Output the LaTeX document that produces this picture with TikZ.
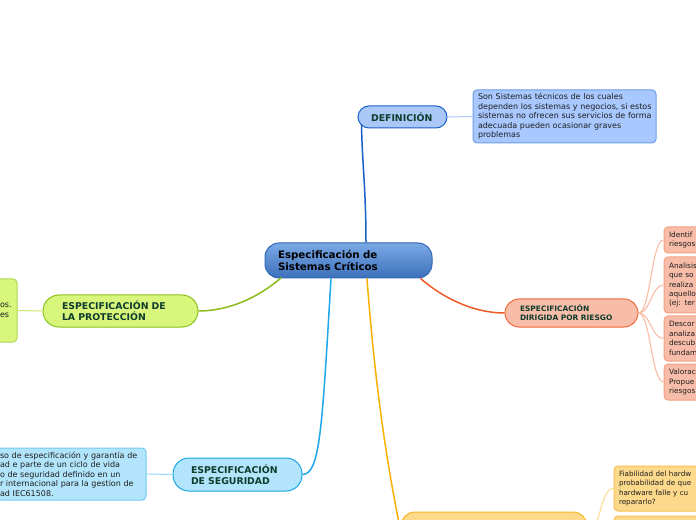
\documentclass[tikz,border=0pt]{standalone}
\usepackage{fontspec}
\setmainfont{DejaVu Sans}
\usetikzlibrary{calc}
\newdimen\pxu \pxu=0.75pt
\newcommand\ml[1]{\mbox{#1}}
\definecolor{pilltxt}{HTML}{0E3B2B}
\definecolor{boxtxt}{HTML}{1E1E1E}
\definecolor{cTop}{HTML}{7AA9E6}
\definecolor{cBot}{HTML}{3C70BA}
\definecolor{cBrd}{HTML}{2F67B5}
\definecolor{dFill}{HTML}{A9C8F8}
\definecolor{dBrd}{HTML}{1A60C8}
\definecolor{dBox}{HTML}{A8C8FF}
\definecolor{dBoxBrd}{HTML}{6D9DE6}
\definecolor{gFill}{HTML}{D8F57C}
\definecolor{gBrd}{HTML}{8CC21E}
\definecolor{gBoxBrd}{HTML}{B0D850}
\definecolor{gLine}{HTML}{8CBC1C}
\definecolor{sFill}{HTML}{F8BDA9}
\definecolor{sBrd}{HTML}{F26A3D}
\definecolor{sBoxBrd}{HTML}{F4A080}
\definecolor{sLine}{HTML}{F05A28}
\definecolor{sFan}{HTML}{F9B8A0}
\definecolor{cyFill}{HTML}{B2E5FB}
\definecolor{cyBrd}{HTML}{1AA6E6}
\definecolor{cyBoxBrd}{HTML}{70CBF0}
\definecolor{cyLine}{HTML}{1EA6EA}
\definecolor{yFill}{HTML}{FDD98B}
\definecolor{yBrd}{HTML}{F8B62A}
\definecolor{yBoxBrd}{HTML}{F8C050}
\definecolor{yLine}{HTML}{F9B000}
\definecolor{yFan}{HTML}{FDD98B}
\tikzset{
  pill/.style={draw, line width=1\pxu, align=left, text=pilltxt,
    font=\fontsize{7}{8.3}\selectfont\bfseries, inner ysep=0pt},
  tbox/.style={draw, line width=1\pxu, rounded corners=4\pxu, align=left, text=boxtxt,
    font=\fontsize{6}{7.1}\selectfont, inner ysep=0pt},
  rbox/.style={tbox, fill=sFill, draw=sBoxBrd, minimum width=116\pxu, text width=106\pxu,
    inner xsep=5\pxu, font=\fontsize{5.5}{7.1}\selectfont},
  branch/.style={line width=1.5\pxu},
  twig/.style={line width=1\pxu},
}
\begin{document}
\begin{tikzpicture}[x=0.75pt,y=-0.75pt]
\useasboundingbox (0,0) rectangle (696,520);
\fill[white] (0,0) rectangle (696,520);
\clip (0,0) rectangle (696,520);

% central
\node[draw=cBrd, line width=1\pxu, top color=cTop, bottom color=cBot, rounded corners=14\pxu,
  minimum width=167\pxu, minimum height=35\pxu, text width=141\pxu, inner xsep=13\pxu, align=left,
  font=\fontsize{7.7}{8.9}\selectfont\bfseries, text=black] (c) at (348.5,260.5)
  {Especificación de\\Sistemas Críticos};

% definicion
\node[pill, fill=dFill, draw=dBrd, rounded corners=11\pxu, minimum width=89\pxu, minimum height=22\pxu,
  text width=63\pxu, inner xsep=13\pxu] (def) at (402.5,117) {DEFINICIÓN};
\node[tbox, fill=dBox, draw=dBoxBrd, minimum width=183\pxu, minimum height=53\pxu,
  text width=173\pxu, inner xsep=5\pxu] (deftxt) at (564.5,116.5)
  {\ml{Son Sistemas técnicos de los cuales}\\\ml{dependen los sistemas y negocios, si estos}\\\ml{sistemas no ofrecen sus servicios de forma}\\\ml{adecuada pueden ocasionar graves}\\\ml{problemas}};

% proteccion
\node[pill, fill=gFill, draw=gBrd, rounded corners=16\pxu, minimum width=155\pxu, minimum height=32\pxu,
  text width=117\pxu, inner xsep=19\pxu] (prot) at (120.5,311) {ESPECIFICACIÓN DE\\LA PROTECCIÓN};
\node[tbox, fill=gFill, draw=gBoxBrd, minimum width=20\pxu, minimum height=63\pxu,
  text width=14\pxu, inner xsep=3\pxu] (prottxt) at (7,310.5) {\ml{os.}\\\ml{es}};

% riesgo
\node[pill, fill=sFill, draw=sBrd, rounded corners=14\pxu, minimum width=133\pxu, minimum height=28\pxu,
  text width=103\pxu, inner xsep=15\pxu, font=\fontsize{5.6}{6.8}\selectfont\bfseries] (ries) at (571.5,313)
  {ESPECIFICACIÓN\\DIRIGIDA POR RIESGO};
\node[rbox, minimum height=26\pxu] (r1) at (722,240) {Identif\\riesgos};
\node[rbox, minimum height=56\pxu] (r2) at (722,285) {Analisis\\que so\\realiza\\aquello\\(ej: ter};
\node[rbox, minimum height=45\pxu] (r3) at (722,338.5) {Descor\\analiza\\descub\\fundam};
\node[rbox, minimum height=36\pxu] (r4) at (722,382) {Valorac\\Propue\\riesgos};

% seguridad
\node[pill, fill=cyFill, draw=cyBrd, rounded corners=16\pxu, minimum width=129\pxu, minimum height=33\pxu,
  text width=93\pxu, inner xsep=18\pxu] (seg) at (237.5,474.5) {ESPECIFICACIÓN\\DE SEGURIDAD};
\node[tbox, fill=cyFill, draw=cyBoxBrd, minimum width=149\pxu, minimum height=52\pxu,
  text width=143\pxu, inner xsep=3\pxu] (segtxt) at (71.5,474)
  {\ml{so de especificación y garantía de}\\\ml{ad e parte de un ciclo de vida}\\\ml{o de seguridad definido en un}\\\ml{r internacional para la gestion de}\\\ml{ad IEC61508.}};

% fiabilidad
\node[pill, fill=yFill, draw=yBrd, rounded corners=14\pxu, minimum width=186\pxu, minimum height=38\pxu] (fiab) at (494,531) {};
\node[tbox, fill=yFill, draw=yBoxBrd, minimum width=146\pxu, minimum height=45\pxu,
  text width=136\pxu, inner xsep=5\pxu, font=\fontsize{5.4}{7.1}\selectfont] (y1) at (687,488.5)
  {\ml{Fiabilidad del hardw}\\\ml{probabilidad de que}\\\ml{hardware falle y cu}\\\ml{repararlo?}};
\node[tbox, fill=yFill, draw=yBoxBrd, minimum width=146\pxu, minimum height=44\pxu] (y2) at (687,538) {};

% connectors central
\draw[branch, dBrd] ($(c.north)+(17.5,0)$) .. controls (366,190) and (362,160) .. ($(def.south west)+(4,-4)$);
\draw[branch, gLine] ($(c.south)+(-67,-1)$) .. controls (258,298) and (228,311) .. (prot.east);
\draw[branch, sLine] ($(c.south)+(72,0)$) .. controls (448,302) and (478,313) .. (ries.west);
\draw[branch, cyLine] ($(c.south)+(-17.5,0)$) .. controls (322,430) and (320,474) .. (seg.east);
\draw[branch, yLine] ($(c.south)+(18.5,0)$) .. controls (376,400) and (390,480) .. ($(fiab.west)+(1,4)$);

% twigs
\draw[twig, dBox] (def.east) -- (deftxt.west);
\draw[twig, gFill!80!gBrd] (prottxt.east) -- (prot.west);
\draw[twig, cyFill!80!cyBrd] (segtxt.east) -- (seg.west);
\foreach \r in {r1,r2,r3,r4}{
  \draw[twig, sFan] (ries.east) .. controls ($(ries.east)+(12,0)$) and ($(\r.west)+(-12,0)$) .. (\r.west);
}
\draw[twig, yFan] (fiab.east) .. controls ($(fiab.east)+(14,0)$) and ($(y1.west)+(-14,0)$) .. (y1.west);
\draw[twig, yFan] (fiab.east) .. controls ($(fiab.east)+(14,0)$) and ($(y2.west)+(-14,0)$) .. (y2.west);
\end{tikzpicture}
\end{document}
